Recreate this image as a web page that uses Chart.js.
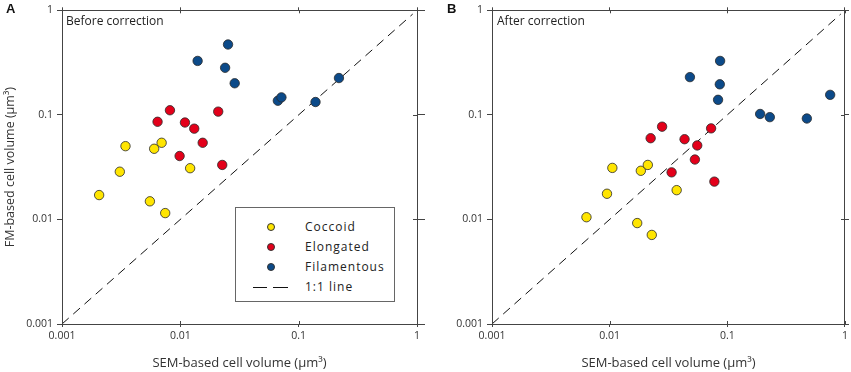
<!DOCTYPE html>
<html>
<head>
<meta charset="utf-8">
<script src="https://cdn.jsdelivr.net/npm/chart.js@4.4.0/dist/chart.umd.min.js"></script>
<style>
body { margin: 0; background: #fff; font-family: "Open Sans", sans-serif; }
#wrap { position: relative; width: 851px; height: 372px; overflow: hidden; }
canvas { position: absolute; top: 0; }
#cA { left: 0; }
#cB { left: 425px; }
.panel { position: absolute; font: bold 13px "Liberation Sans", Arial, sans-serif; color: #111; }
.note { position: absolute; font-size: 12px; color: #222; }
#legend { position: absolute; left: 235px; top: 207px; width: 160px; height: 95px; box-sizing: border-box; border: 1px solid #666; background: #fff; }
.row { position: absolute; left: 0; width: 100%; height: 16px; }
.dot { position: absolute; left: 31px; top: 4px; width: 8px; height: 8px; border-radius: 50%; box-sizing: border-box; border: 1px solid #333; }
.txt { position: absolute; left: 69px; top: -1px; font-size: 12px; letter-spacing: 1px; color: #222; }
.dash { position: absolute; top: 8px; height: 1px; background: #111; }
</style>
</head>
<body>
<div id="wrap">
  <canvas id="cA" width="425" height="372"></canvas>
  <canvas id="cB" width="426" height="372"></canvas>
  <div class="panel" style="left:6px;top:1px">A</div>
  <div class="panel" style="left:447px;top:1px">B</div>
  <div class="note" style="left:66px;top:12px">Before correction</div>
  <div class="note" style="left:497px;top:12px">After correction</div>
  <div id="legend">
    <div class="row" style="top:11px"><span class="dot" style="background:#FFE500"></span><span class="txt">Coccoid</span></div>
    <div class="row" style="top:31px"><span class="dot" style="background:#E3001A"></span><span class="txt">Elongated</span></div>
    <div class="row" style="top:51px"><span class="dot" style="background:#0C4A89"></span><span class="txt">Filamentous</span></div>
    <div class="row" style="top:71px"><span class="dash" style="left:17px;width:14px"></span><span class="dash" style="left:37px;width:15px"></span><span class="txt">1:1 line</span></div>
  </div>
</div>
<script>
// decade ticks on both log axes
const decades = [0.001, 0.01, 0.1, 1]
const lineEnds = [0.001, 0.92]

// panel A: before correction (SEM volume, FM volume)
const coccoidSemA = [0.00344, 0.00601, 0.00695, 0.00308, 0.0121, 0.00206, 0.00553, 0.00745]
const coccoidFmA  = [0.0502, 0.0474, 0.0541, 0.0286, 0.0309, 0.0171, 0.0149, 0.0115]
const elongSemA = [0.00817, 0.00642, 0.01094, 0.01311, 0.0209, 0.01545, 0.00986, 0.0226]
const elongFmA  = [0.1107, 0.0859, 0.0845, 0.0738, 0.1074, 0.0541, 0.0404, 0.0332]
const filSemA = [0.0140, 0.0253, 0.0239, 0.0288, 0.0667, 0.0715, 0.1388, 0.219]
const filFmA  = [0.328, 0.471, 0.282, 0.2005, 0.1365, 0.147, 0.1327, 0.225]

// panel B: after correction
const coccoidSemB = [0.01054, 0.0184, 0.0211, 0.00949, 0.0371, 0.00635, 0.01714, 0.0228]
const coccoidFmB  = [0.0311, 0.0292, 0.0332, 0.0176, 0.01905, 0.0105, 0.00923, 0.00711]
const elongSemB = [0.0279, 0.0223, 0.0433, 0.0728, 0.0555, 0.0530, 0.0336, 0.0776]
const elongFmB  = [0.0771, 0.0598, 0.0585, 0.0743, 0.0510, 0.0374, 0.0282, 0.0230]
const filSemB = [0.0868, 0.0481, 0.0863, 0.0834, 0.190, 0.2297, 0.474, 0.748]
const filFmB  = [0.328, 0.2296, 0.196, 0.1393, 0.102, 0.0951, 0.0923, 0.1554]

const frameColor = '#444'

const pts = (xs, ys) => xs.map((x, i) => ({ x: x, y: ys[i] }))

function pointSet(label, xs, ys, color) {
  return {
    type: 'scatter',
    label: label,
    data: pts(xs, ys),
    backgroundColor: color,
    borderColor: '#2a2a2a',
    borderWidth: 0.8,
    pointRadius: 4.7,
    order: 1
  }
}

const setDecades = s => { s.ticks = decades.map(v => ({ value: v })) }

// small inward tick marks on bottom, top and right axes
const innerTicks = {
  id: 'innerTicks',
  afterDatasetsDraw(chart) {
    const c = chart.ctx
    const a = chart.chartArea
    c.save()
    c.strokeStyle = frameColor
    c.lineWidth = 1
    c.beginPath()
    decades.forEach(v => {
      const px = Math.round(chart.scales.x.getPixelForValue(v)) + 0.5
      const py = Math.round(chart.scales.y.getPixelForValue(v)) + 0.5
      c.moveTo(px, a.bottom); c.lineTo(px, a.bottom - 3)
      c.moveTo(px, a.top); c.lineTo(px, a.top + 3)
      c.moveTo(a.right, py); c.lineTo(a.right - 4, py)
    })
    c.stroke()
    c.restore()
  }
}

function makeChart(id, sets, yWidth, rightWidth, showYTitle) {
  const tickFont = { family: 'Open Sans', size: 10.5 }
  return new Chart(document.getElementById(id), {
    type: 'scatter',
    data: {
      datasets: [
        {
          type: 'line',
          label: '1:1 line',
          data: pts(lineEnds, lineEnds),
          borderColor: '#111',
          borderWidth: 1,
          borderDash: [9, 6],
          pointRadius: 0,
          fill: false,
          order: 2
        },
        ...sets
      ]
    },
    options: {
      responsive: false,
      animation: false,
      layout: { padding: 0 },
      plugins: { legend: { display: false }, tooltip: { enabled: false } },
      scales: {
        x: {
          type: 'logarithmic', position: 'bottom', min: 0.001, max: 1,
          afterBuildTicks: setDecades,
          afterFit: s => { s.height = 48 },
          ticks: { autoSkip: false, maxRotation: 0, padding: 3, color: '#333', font: tickFont, callback: v => String(v) },
          grid: { drawOnChartArea: false, tickLength: 3, color: frameColor },
          border: { color: frameColor, width: 1 },
          title: { display: true, text: 'SEM-based cell volume (μm³)', color: '#333', font: { family: 'Open Sans', size: 13 }, padding: { bottom: 1 } }
        },
        y: {
          type: 'logarithmic', position: 'left', min: 0.001, max: 1,
          afterBuildTicks: setDecades,
          afterFit: s => { s.width = yWidth },
          ticks: { autoSkip: false, padding: 4, color: '#333', font: tickFont, callback: v => String(v) },
          grid: { drawOnChartArea: false, tickLength: 5, color: frameColor },
          border: { color: frameColor, width: 1 },
          title: { display: showYTitle, text: 'FM-based cell volume (μm³)', color: '#333', font: { family: 'Open Sans', size: 12.5 }, padding: { top: 3 } }
        },
        x2: {
          type: 'logarithmic', position: 'top', min: 0.001, max: 1,
          afterBuildTicks: setDecades,
          afterFit: s => { s.height = 6 },
          ticks: { display: false },
          grid: { drawOnChartArea: false, tickLength: 3, color: frameColor },
          border: { color: frameColor, width: 1 }
        },
        y2: {
          type: 'logarithmic', position: 'right', min: 0.001, max: 1,
          afterBuildTicks: setDecades,
          afterFit: s => { s.width = rightWidth },
          ticks: { display: false },
          grid: { drawOnChartArea: false, tickLength: rightWidth, color: frameColor },
          border: { color: frameColor, width: 1 }
        }
      }
    },
    plugins: [innerTicks]
  })
}

const chartA = makeChart('cA', [
  pointSet('Coccoid', coccoidSemA, coccoidFmA, '#FFE500'),
  pointSet('Elongated', elongSemA, elongFmA, '#E3001A'),
  pointSet('Filamentous', filSemA, filFmA, '#0C4A89')
], 62, 8, true)

const chartB = makeChart('cB', [
  pointSet('Coccoid', coccoidSemB, coccoidFmB, '#FFE500'),
  pointSet('Elongated', elongSemB, elongFmB, '#E3001A'),
  pointSet('Filamentous', filSemB, filFmB, '#0C4A89')
], 67, 4, false)
</script>
</body>
</html>
